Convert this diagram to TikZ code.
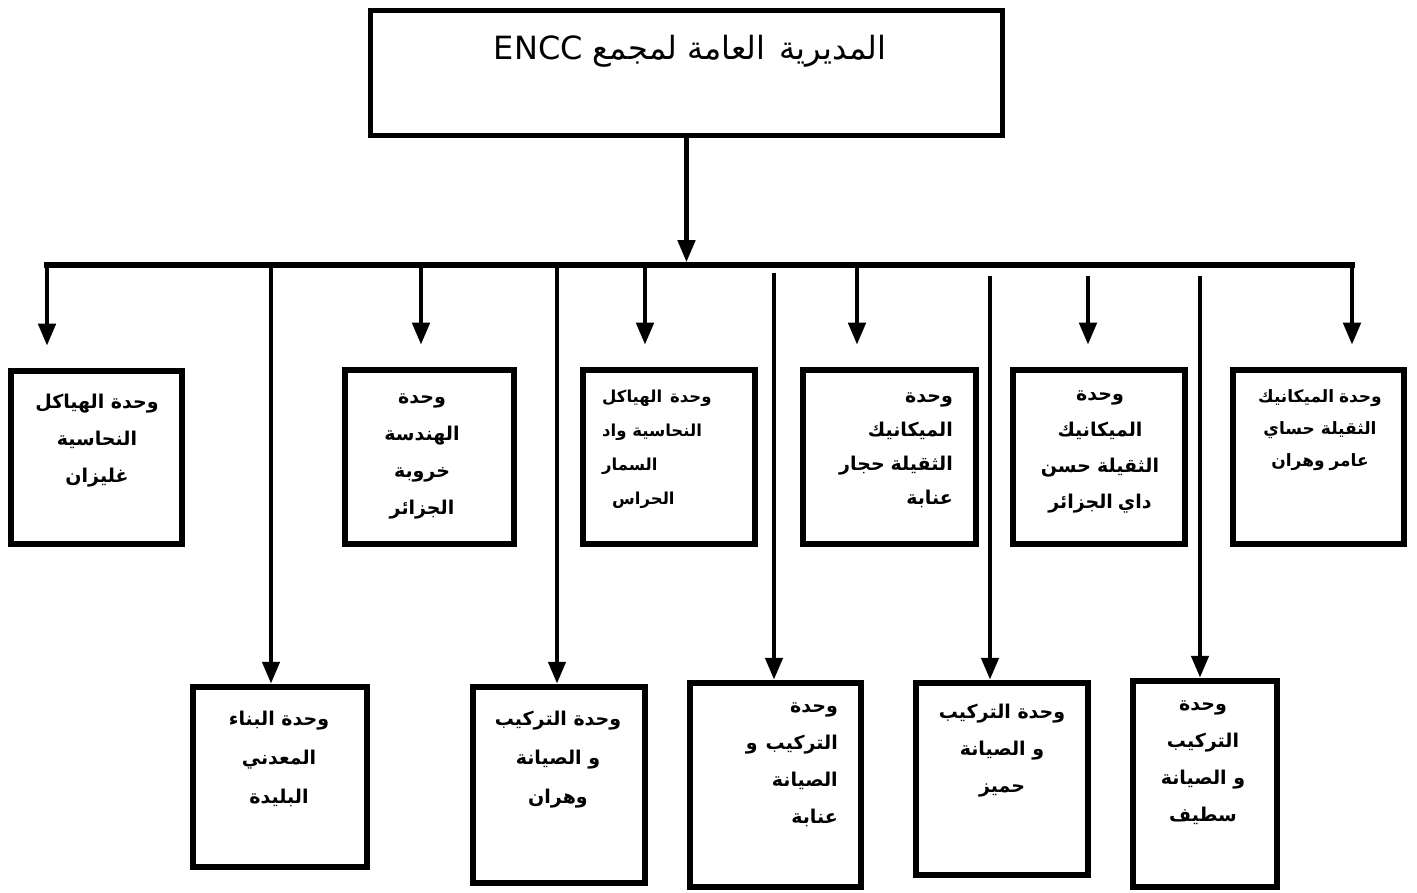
\documentclass[tikz,border=0pt]{standalone}
\usepackage{fontspec}
\usetikzlibrary{arrows.meta,positioning}
\newfontfamily\arabicfont[Script=Arabic]{DejaVu Sans}
\TeXXeTstate=1
\newcommand{\rtline}[1]{\beginR #1\endR}

\begin{document}
\begin{tikzpicture}[x=1pt,y=-1pt,
  unitbox/.style={draw, line width=6.5pt, inner sep=0pt},
  unittext/.style={inner sep=0pt, align=center, font=\arabicfont\bfseries\fontsize{19}{37}\selectfont},
  headtext/.style={inner sep=0pt, font=\arabicfont\fontsize{32}{36}\selectfont},
  busline/.style={line width=5.5pt, line cap=rect},
  arrowdown/.style={line width=4.5pt, -{Triangle[length=22pt,width=17pt]}}]
\useasboundingbox (0,0) rectangle (1417,893);

% head office
\node[draw, line width=5pt, minimum width=632pt, minimum height=125pt] (head) at (686.5,73.5) {};
\node[headtext] (headlbl) at (690,51) {\rtline{المديرية\hspace{14pt}العامة لمجمع \beginL ENCC\endL}};

% bus
\coordinate (busL) at (47,265);
\coordinate (busR) at (1352,265);
\draw[busline] (busL) -- (busR);
\draw[arrowdown, shorten >=2.75pt] (head.south) -- (head.south |- busL);

% units, upper row
\node[unitbox, minimum width=171pt, minimum height=173pt] (t1) at (96.5,457.5) {};
\node[unitbox, minimum width=169pt, minimum height=174pt] (t2) at (429.5,457) {};
\node[unitbox, minimum width=172pt, minimum height=174pt] (t3) at (669,457) {};
\node[unitbox, minimum width=173pt, minimum height=174pt] (t4) at (889.5,457) {};
\node[unitbox, minimum width=172pt, minimum height=174pt] (t5) at (1099,457) {};
\node[unitbox, minimum width=171pt, minimum height=174pt] (t6) at (1318.5,457) {};

\node[unittext, anchor=north] (t1lbl) at (97,394) {\rtline{وحدة الهياكل}\\\rtline{النحاسية}\\\rtline{غليزان}};
\node[unittext, anchor=north] (t2lbl) at (422,394) {\rtline{وحدة}\\\rtline{الهندسة}\\\rtline{خروبة}\\\rtline{الجزائر}};
\node[unittext, anchor=north west, align=left, font=\arabicfont\bfseries\fontsize{16.5}{34}\selectfont] (t3lbl) at (602,390) {\rtline{وحدة\hspace{8pt}الهياكل}\\\rtline{النحاسية واد}\\\rtline{السمار}\\\rtline{الحراس\hspace{10pt}}};
\node[unittext, anchor=north east, align=right, font=\arabicfont\bfseries\fontsize{19}{34}\selectfont] (t4lbl) at (953,393) {\rtline{وحدة}\\\rtline{الميكانيك}\\\rtline{الثقيلة\hspace{6pt}حجار}\\\rtline{عنابة}};
\node[unittext, anchor=north, font=\arabicfont\bfseries\fontsize{19}{36}\selectfont] (t5lbl) at (1100,391) {\rtline{وحدة}\\\rtline{الميكانيك}\\\rtline{الثقيلة\hspace{6pt}حسن}\\\rtline{داي\hspace{5pt}الجزائر}};
\node[unittext, anchor=north, font=\arabicfont\bfseries\fontsize{17}{32}\selectfont] (t6lbl) at (1320,389) {\rtline{وحدة\hspace{5pt}الميكانيك}\\\rtline{الثقيلة\hspace{6pt}حساي}\\\rtline{عامر\hspace{5pt}وهران}};

% drops to upper row
\coordinate (d2) at (421,265);
\coordinate (d3) at (645,265);
\coordinate (d4) at (857,265);
\coordinate (d5) at (1088,276);
\draw[arrowdown, shorten >=22pt] (busL) -- (busL |- t1.north);
\draw[arrowdown, shorten >=22pt] (d2) -- (d2 |- t2.north);
\draw[arrowdown, shorten >=22pt] (d3) -- (d3 |- t3.north);
\draw[arrowdown, shorten >=22pt] (d4) -- (d4 |- t4.north);
\draw[arrowdown, shorten >=22pt] (d5) -- (d5 |- t5.north);
\draw[arrowdown, shorten >=22pt] (busR) -- (busR |- t6.north);

% units, lower row
\node[unitbox, minimum width=174pt, minimum height=180pt] (b1) at (280,777) {};
\node[unitbox, minimum width=172pt, minimum height=196pt] (b2) at (559,785) {};
\node[unitbox, minimum width=171pt, minimum height=204pt] (b3) at (775.5,785) {};
\node[unitbox, minimum width=172pt, minimum height=192pt] (b4) at (1002,779) {};
\node[unitbox, minimum width=144pt, minimum height=206pt] (b5) at (1205,784) {};

\node[unittext, anchor=north, font=\arabicfont\bfseries\fontsize{19}{39}\selectfont] (b1lbl) at (279,711) {\rtline{وحدة البناء}\\\rtline{المعدني}\\\rtline{البليدة}};
\node[unittext, anchor=north, font=\arabicfont\bfseries\fontsize{19}{39}\selectfont] (b2lbl) at (558,711) {\rtline{وحدة التركيب}\\\rtline{و الصيانة}\\\rtline{وهران}};
\node[unittext, anchor=north east, align=right] (b3lbl) at (838,703) {\rtline{وحدة}\\\rtline{التركيب\hspace{8pt}و}\\\rtline{الصيانة}\\\rtline{عنابة}};
\node[unittext, anchor=north] (b4lbl) at (1002,704) {\rtline{وحدة التركيب}\\\rtline{و الصيانة}\\\rtline{حميز}};
\node[unittext, anchor=north] (b5lbl) at (1203,701) {\rtline{وحدة}\\\rtline{التركيب}\\\rtline{و الصيانة}\\\rtline{سطيف}};

% drops to lower row
\coordinate (s1) at (271,265);
\coordinate (s2) at (557,265);
\coordinate (s3) at (774,273);
\coordinate (s4) at (990,276);
\coordinate (s5) at (1200,276);
\draw[arrowdown] (s1) -- (s1 |- b1.north);
\draw[arrowdown] (s2) -- (s2 |- b2.north);
\draw[arrowdown] (s3) -- (s3 |- b3.north);
\draw[arrowdown] (s4) -- (s4 |- b4.north);
\draw[arrowdown] (s5) -- (s5 |- b5.north);
\end{tikzpicture}
\end{document}
